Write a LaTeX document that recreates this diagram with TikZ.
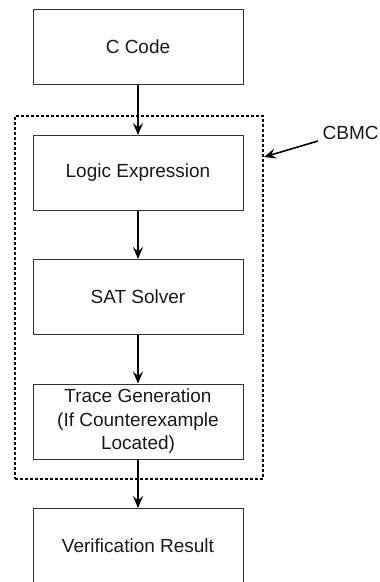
\documentclass[tikz,border=0pt]{standalone}
\usepackage{fontspec}
\setmainfont{Liberation Sans}
\usetikzlibrary{arrows.meta}
\begin{document}
\begin{tikzpicture}[x=1pt,y=-1pt,
  procbox/.style={draw=black!80,line width=0.9pt,minimum width=210pt,minimum height=75pt,inner sep=0pt,font=\fontsize{19}{23.5}\selectfont,align=center,text=black!90},
  flow/.style={line width=1.6pt,-{Stealth[length=12pt,width=10pt,inset=4.5pt]}},
  group/.style={draw,line width=1.4pt,dash pattern=on 3pt off 2pt}]
\useasboundingbox (0,0) rectangle (380,582);
\begin{scope}
\clip (0,0) rectangle (380,582);
\node[procbox] (code) at (138,47) {C Code};
\node[procbox] (logic) at (138,173) {Logic Expression};
\node[procbox] (sat) at (138,297) {SAT Solver};
\node[procbox] (trace) at (138,421.5) {Trace Generation\\(If Counterexample\\Located)};
\node[procbox] (result) at (138,546) {Verification Result};
\node[group,minimum width=248pt,minimum height=363pt,inner sep=0pt] (cbmcbox) at (139,297.5) {};
\node[font=\fontsize{19}{22}\selectfont,anchor=west,inner sep=0pt,text=black!90] (cbmc) at (322.5,133) {CBMC};
\coordinate (cbmcstart) at (318,141);
\coordinate (cbmcend) at (264,157);
\draw[flow] (code) -- (logic);
\draw[flow] (logic) -- (sat);
\draw[flow] (sat) -- (trace);
\draw[flow] (trace) -- (result);
\draw[flow] (cbmcstart) -- (cbmcend);
\end{scope}
\end{tikzpicture}
\end{document}
